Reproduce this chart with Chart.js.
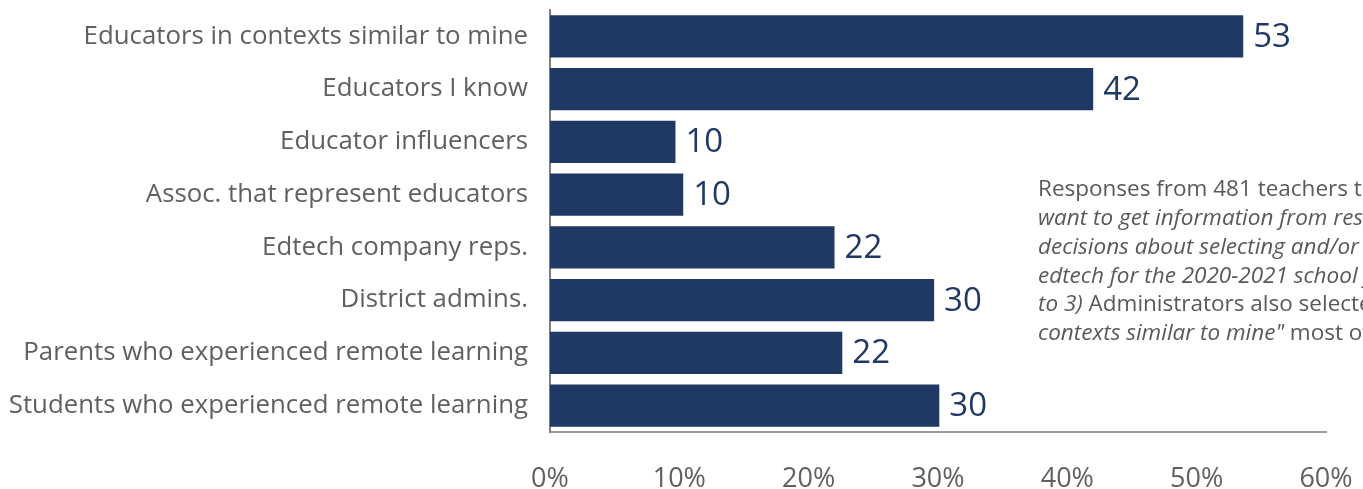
<!DOCTYPE html>
<html>
<head>
<meta charset="utf-8">
<script src="https://cdn.jsdelivr.net/npm/chart.js@4"></script>
<style>
  html, body { margin: 0; padding: 0; background: #ffffff; }
  #wrap { width: 1363px; height: 489px; position: relative; }
</style>
</head>
<body>
<div id="wrap"><canvas id="c" width="1363" height="489"></canvas></div>
<script>
const categories = [
  "Educators in contexts similar to mine",
  "Educators I know",
  "Educator influencers",
  "Assoc. that represent educators",
  "Edtech company reps.",
  "District admins.",
  "Parents who experienced remote learning",
  "Students who experienced remote learning"
];
const values = [53.6, 42.0, 9.7, 10.3, 22.0, 29.7, 22.6, 30.1];
const valueLabels = ["53", "42", "10", "10", "22", "30", "22", "30"];
const xTicks = [0, 10, 20, 30, 40, 50, 60];
const noteLines = [
  [["Responses from 481 teachers to \"I ", false]],
  [["want to get information from resources like these when making", true]],
  [["decisions about selecting and/or using", true]],
  [["edtech for the 2020-2021 school year.\" (Select up", true]],
  [["to 3) ", true], ["Administrators also selected \"Educators in", false]],
  [["contexts similar to mine\" ", true], ["most often.", false]]
];

const NAVY = "#1f3864";
const GREY = "#606060";

const valueLabelPlugin = {
  id: "valueLabels",
  afterDatasetsDraw(chart) {
    const ctx = chart.ctx;
    const meta = chart.getDatasetMeta(0);
    ctx.save();
    ctx.font = "33px 'Open Sans'";
    ctx.fillStyle = NAVY;
    ctx.textAlign = "left";
    ctx.textBaseline = "middle";
    meta.data.forEach((bar, i) => {
      ctx.fillText(valueLabels[i], bar.x + 10, bar.y + 1);
    });
    ctx.restore();
  }
};

const notePlugin = {
  id: "note",
  afterDraw(chart) {
    const ctx = chart.ctx;
    ctx.save();
    ctx.fillStyle = "#595959";
    ctx.textBaseline = "middle";
    ctx.textAlign = "left";
    const x0 = 1038, y0 = 190, lh = 28.7;
    noteLines.forEach((segs, li) => {
      let x = x0;
      segs.forEach(([txt, ital]) => {
        ctx.font = (ital ? "italic " : "") + "22.5px 'Open Sans'";
        ctx.fillText(txt, x, y0 + li * lh);
        x += ctx.measureText(txt).width;
      });
    });
    ctx.restore();
  }
};

new Chart(document.getElementById("c"), {
  type: "bar",
  data: {
    labels: categories,
    datasets: [{
      data: values,
      backgroundColor: NAVY,
      borderWidth: 0,
      categoryPercentage: 0.8,
      barPercentage: 1.0
    }]
  },
  options: {
    indexAxis: "y",
    responsive: false,
    animation: false,
    devicePixelRatio: 1,
    layout: { padding: { left: 0, right: 37, top: 10, bottom: 0 } },
    plugins: { legend: { display: false }, tooltip: { enabled: false } },
    scales: {
      x: {
        min: 0, max: 60,
        afterBuildTicks(scale) { scale.ticks = xTicks.map(v => ({ value: v })); },
        afterFit(scale) {
          scale.height = 57;
          scale.paddingLeft = 0; scale.paddingRight = 0;
        },
        grid: { display: false, drawTicks: false },
        border: { display: true, color: "#9a9a9a", width: 2 },
        ticks: {
          padding: 31,
          color: GREY,
          maxRotation: 0,
          font: { family: "'Open Sans'", size: 27 },
          callback: (v) => v + "%"
        }
      },
      y: {
        afterFit(scale) {
          scale.width = 550;
          scale.paddingTop = 0; scale.paddingBottom = 0;
        },
        grid: { display: false, drawTicks: false },
        border: { display: true, color: "#7f7f7f", width: 2 },
        ticks: {
          padding: 22,
          color: GREY,
          font: { family: "'Open Sans'", size: 25.8 }
        }
      }
    }
  },
  plugins: [valueLabelPlugin, notePlugin]
});
</script>
</body>
</html>
